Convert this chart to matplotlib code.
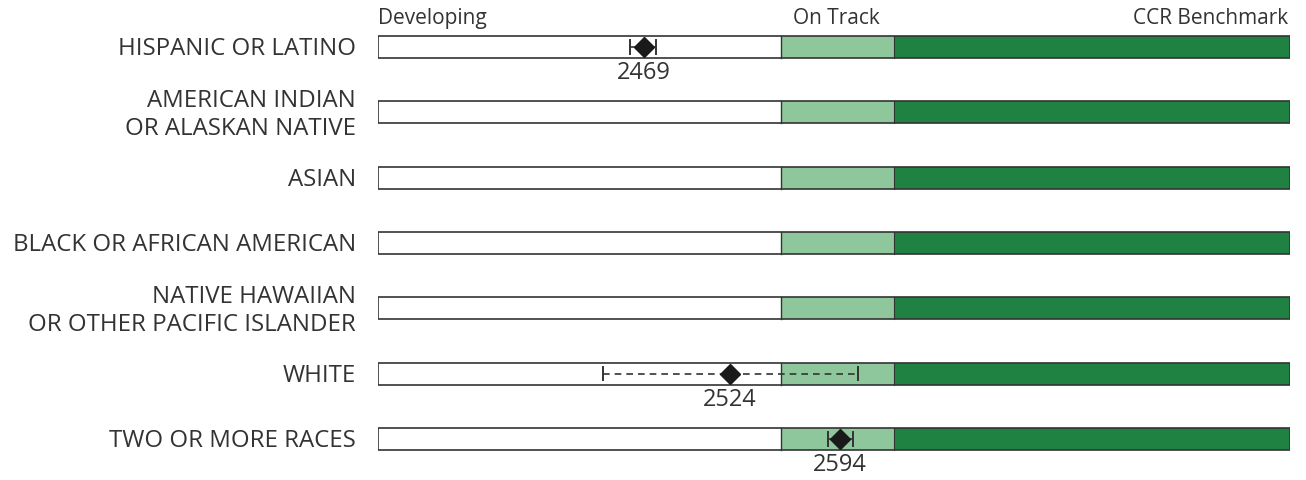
import matplotlib.pyplot as plt

groups = ['HISPANIC OR LATINO', 'AMERICAN INDIAN\nOR ALASKAN NATIVE', 'ASIAN',
          'BLACK OR AFRICAN AMERICAN', 'NATIVE HAWAIIAN\nOR OTHER PACIFIC ISLANDER',
          'WHITE', 'TWO OR MORE RACES']
scores = [2469, None, None, None, None, 2524, 2594]
lows = [2460, None, None, None, None, 2443, 2586]
highs = [2477, None, None, None, None, 2605, 2602]
dashed = [False, False, False, False, False, True, False]

scale_min = 2300
on_track = 2556
ccr = 2628
scale_max = 2880
level_names = ['Developing', 'On Track', 'CCR Benchmark']

plt.rcParams['font.family'] = ['Open Sans', 'DejaVu Sans']

fig = plt.figure(figsize=(13.06, 4.81), dpi=100)
ax = fig.add_axes([378/1306, 0, 912/1306, 1])
ax.set_xlim(scale_min, scale_max)
ax.set_ylim(6.63, -0.735)
ax.axis('off')

h = 0.337
for i, g in enumerate(groups):
    ax.barh(i, on_track - scale_min, left=scale_min, height=h, color='white', edgecolor='none', zorder=1)
    ax.barh(i, ccr - on_track, left=on_track, height=h, color='#8dc79b', edgecolor='none', zorder=1)
    ax.barh(i, scale_max - ccr, left=ccr, height=h, color='#1f8243', edgecolor='none', zorder=1)
    ax.barh(i, scale_max - scale_min, left=scale_min, height=h, color='none', edgecolor='#333333', linewidth=1.2, zorder=2)
    ax.plot([on_track, on_track], [i - h/2, i + h/2], color='#333333', lw=1.0, zorder=2)
    ax.plot([ccr, ccr], [i - h/2, i + h/2], color='#333333', lw=0.8, zorder=2)
    ax.text(scale_min - 14, i + 0.02, g, ha='right', va='center', fontsize=17.3, color='#333333',
            linespacing=1.22)
    if scores[i] is not None:
        ls = (0, (4, 3)) if dashed[i] else '-'
        ax.plot([lows[i], highs[i]], [i, i], color='#333333', lw=1.2, linestyle=ls, zorder=3)
        for x in (lows[i], highs[i]):
            ax.plot([x, x], [i - 0.105, i + 0.105], color='#333333', lw=1.4, zorder=3)
        ax.plot(scores[i], i, marker='D', markersize=10.5, color='#1a1a1a', zorder=4)
        ax.text(scores[i], i + 0.39, str(scores[i]), ha='center', va='center', fontsize=17, color='#333333')

ax.text(scale_min, -0.45, level_names[0], ha='left', va='center', fontsize=15, color='#333333')
ax.text(on_track + 8, -0.45, level_names[1], ha='left', va='center', fontsize=15, color='#333333')
ax.text(scale_max - 1, -0.45, level_names[2], ha='right', va='center', fontsize=15, color='#333333')

fig.savefig('out.png', dpi=100)
